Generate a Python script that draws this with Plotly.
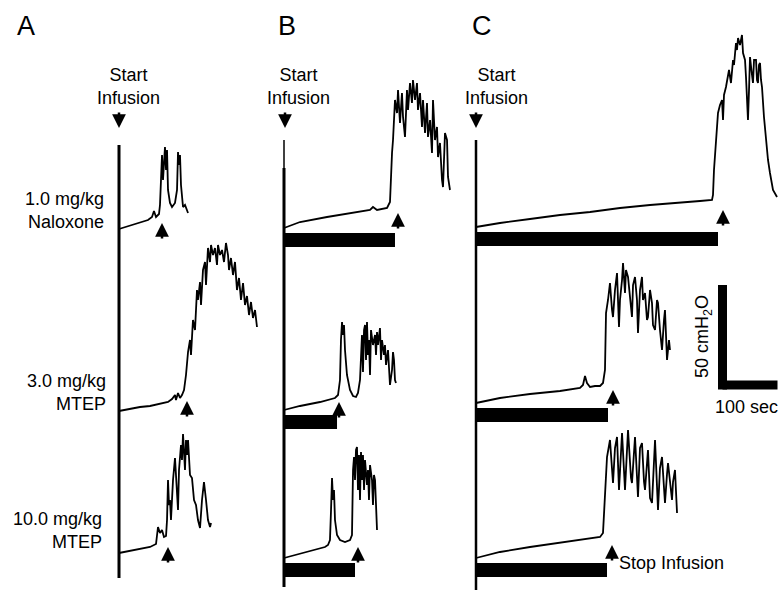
import plotly.graph_objects as go

W, H = 783, 595
PX_PER_S = 0.55      # horizontal scale (100 s scale bar)
PX_PER_CM = 2.0      # vertical scale (50 cmH2O scale bar)
FONT = "Liberation Sans, Arial, sans-serif"

# ---------------- data: time since start of infusion (s), pressure above baseline (cmH2O)
a1_t = [0, 16.4, 34.5, 52.7, 60, 63.6, 67.3, 72.7, 74.5, 76.4, 78.2, 80, 81.8, 83.6, 85.5, 87.3,
        89.1, 92.7, 96.4, 101.8, 105.5, 107.3, 109.1, 110.9, 112.7, 116.4, 120, 123.6, 125.5]
a1_p = [0, 1.5, 3, 4.5, 6, 9, 6, 7.5, 12, 32, 37, 24.5, 34.5, 41, 29.5, 39.5,
        19.5, 13, 11, 13, 19.5, 38.5, 32, 37, 22, 11, 12, 9, 8]

a2_t = [0, 20, 38.2, 56.4, 74.5, 89.1, 96.4, 101.8, 103.6, 107.3, 110.9, 114.5, 118.2, 121.8, 125.5,
        129.1, 130.9, 134.5, 138.2, 141.8, 143.6, 147.3, 149.1, 152.7, 156.4, 158.2, 161.8, 165.5,
        167.3, 170.9, 174.5, 178.2, 180, 183.6, 187.3, 190.9, 194.5, 198.2, 200, 203.6, 207.3,
        210.9, 214.5, 218.2, 221.8, 225.5, 229.1, 232.7, 236.4, 240, 243.6, 247.3, 250.9]
a2_p = [0, 1, 2, 2.5, 3.5, 4.5, 6, 8, 5.5, 9, 6.5, 8, 10.5, 18, 29.5,
        35.5, 28, 45.5, 40.5, 60.5, 55.5, 64.5, 53, 70.5, 74.5, 63, 81.5, 74.5,
        83, 78, 81.5, 73, 83, 78, 80.5, 74.5, 84, 78, 70.5, 76.5, 68,
        74.5, 60.5, 66.5, 55.5, 64, 53, 57.5, 48, 54.5, 46.5, 50.5, 42]

a3_t = [0, 20, 38.2, 56.4, 67.3, 70.9, 74.5, 78.2, 81.8, 85.5, 87.3, 89.1, 90.9, 92.7, 94.5, 98.2,
        101.8, 105.5, 107.3, 109.1, 112.7, 114.5, 116.4, 120, 121.8, 123.6, 125.5, 129.1, 132.7,
        136.4, 140, 143.6, 147.3, 150.9, 154.5, 158.2, 161.8, 165.5, 167.3]
a3_p = [0, 1, 2, 3, 4.5, 13, 10, 11.5, 8, 8.5, 16.5, 36.5, 24, 26.5, 16.5, 36.5,
        47.5, 31.5, 21.5, 41.5, 54, 46.5, 59.5, 41.5, 56.5, 49, 56.5, 39, 37.5,
        26.5, 24, 16.5, 12.5, 26.5, 35.5, 26.5, 16.5, 13, 15]

b1_t = [0, 29.1, 78.2, 125.5, 156.4, 161.8, 169.1, 187.3, 192.7, 196.4, 198.2, 201.8, 205.5, 207.3,
        210.9, 214.5, 216.4, 220, 223.6, 225.5, 229.1, 232.7, 234.5, 238.2, 241.8, 243.6, 247.3,
        250.9, 252.7, 256.4, 260, 261.8, 265.5, 269.1, 270.9, 274.5, 278.2, 280, 283.6, 287.3,
        289.1, 292.7, 296.4, 298.2, 301.8]
b1_p = [0, 3, 5.5, 7.5, 9, 10.5, 9, 10, 13, 37.5, 44, 64, 57.5, 69,
        52.5, 67.5, 55.5, 45.5, 69, 59, 72.5, 62.5, 74, 64, 72.5, 59, 67.5,
        50.5, 64, 47.5, 62.5, 45.5, 54, 37.5, 64, 44, 50.5, 35.5, 42.5, 24,
        20.5, 47.5, 44, 25.5, 19]

b2_t = [0, 29.1, 65.5, 92.7, 98.2, 101.8, 103.6, 105.5, 107.3, 109.1, 110.9, 114.5, 120, 125.5,
        130.9, 134.5, 138.2, 140, 141.8, 143.6, 145.5, 147.3, 149.1, 150.9, 152.7, 154.5, 156.4,
        158.2, 161.8, 165.5, 167.3, 169.1, 170.9, 174.5, 176.4, 178.2, 181.8, 183.6, 185.5, 189.1,
        190.9, 192.7, 196.4, 198.2, 200, 201.8, 203.6]
b2_p = [0, 2, 4, 6, 7.5, 15, 35, 44, 37.5, 42.5, 30, 17.5, 10, 7,
        6.5, 8.5, 15, 32.5, 37.5, 19, 40, 42.5, 25, 44, 27.5, 35, 17.5,
        40, 32.5, 37.5, 27.5, 39, 32.5, 41, 25, 35, 27.5, 32.5, 22.5, 30,
        17.5, 12.5, 20, 29, 25, 15, 13.5]

b3_t = [0, 29.1, 56.4, 74.5, 80, 83.6, 85.5, 87.3, 89.1, 90.9, 92.7, 96.4, 101.8, 110.9, 120, 123.6,
        125.5, 127.3, 129.1, 130.9, 132.7, 134.5, 136.4, 138.2, 140, 141.8, 143.6, 145.5, 147.3,
        150.9, 152.7, 154.5, 156.4, 160, 161.8, 163.6, 165.5, 167.3, 169.1]
b3_p = [0, 2, 4, 5.5, 6.5, 9, 24, 40, 29, 34, 19, 11.5, 9, 8, 9, 11.5,
        44, 50.5, 39, 54, 55.5, 34, 51.5, 29, 53, 39, 51.5, 34, 49,
        36.5, 44, 29, 46.5, 39, 26.5, 41.5, 39, 24, 14]

c1_t = [0, 43.6, 98.2, 152.7, 207.3, 261.8, 316.4, 370.9, 407.3, 429.1, 430.9, 432.7, 436.4, 440,
        443.6, 447.3, 449.1, 450.9, 454.5, 458.2, 460, 463.6, 467.3, 469.1, 472.7, 474.5, 476.4,
        480, 483.6, 485.5, 489.1, 490.9, 492.7, 494.5, 496.4, 498.2, 501.8, 503.6, 505.5, 509.1,
        510.9, 512.7, 514.5, 516.4, 518.2, 520, 523.6, 527.3, 530.9, 534.5, 540, 547.3]
c1_p = [0, 2, 4, 6, 7.5, 9.5, 11, 12, 13, 13.5, 16, 28.5, 42, 57,
        61, 63.5, 53.5, 66, 70, 76, 78.5, 72, 83.5, 81, 92, 88.5, 94.5,
        91, 96, 87, 83.5, 75, 66, 53.5, 68.5, 85, 76, 72, 83.5, 83.5,
        73.5, 72, 81, 82, 73.5, 70, 55, 42, 33.5, 27, 18.5, 15]

c2_t = [0, 43.6, 98.2, 152.7, 189.1, 194.5, 198.2, 201.8, 207.3, 216.4, 225.5, 230.9, 234.5, 236.4,
        240, 243.6, 247.3, 249.1, 252.7, 256.4, 260, 261.8, 265.5, 267.3, 270.9, 272.7, 276.4,
        280, 283.6, 285.5, 289.1, 292.7, 294.5, 298.2, 301.8, 303.6, 307.3, 310.9, 312.7, 316.4,
        320, 321.8, 325.5, 329.1, 330.9, 334.5, 338.2, 341.8, 343.6, 347.3, 350.9, 352.7]
c2_p = [0, 2.5, 4.5, 6, 7.5, 9, 13.5, 10, 8, 8.5, 8.5, 10, 16.5, 45,
        51.5, 60, 46.5, 43, 56.5, 65, 38, 51.5, 61.5, 70, 55, 66.5, 63,
        51.5, 43, 59, 63, 51.5, 35, 56.5, 63, 51.5, 55, 41.5, 43, 56.5,
        50, 39, 36.5, 51.5, 50, 36.5, 26.5, 41.5, 46.5, 21.5, 31.5, 26.5]

c3_t = [0, 43.6, 98.2, 152.7, 207.3, 225.5, 230.9, 234.5, 238.2, 243.6, 249.1, 252.7, 256.4, 260,
        263.6, 265.5, 270.9, 274.5, 276.4, 281.8, 283.6, 289.1, 292.7, 294.5, 298.2, 301.8, 305.5,
        307.3, 312.7, 316.4, 320, 323.6, 325.5, 330.9, 334.5, 338.2, 343.6, 347.3, 349.1, 356.4,
        358.2, 361.8, 365.5]
c3_p = [0, 3, 5.5, 7.5, 9.5, 10.5, 12.5, 30.5, 50.5, 59, 37.5, 55, 60.5, 34,
        58, 62.5, 34, 57, 64, 40, 37.5, 60.5, 35, 30.5, 55, 57.5, 38,
        34, 54, 30, 27.5, 52, 59, 24, 45, 50.5, 27.5, 42, 47.5, 29,
        38, 44, 22.5]

traces = [(a1_t, a1_p), (a2_t, a2_p), (a3_t, a3_p),
          (b1_t, b1_p), (b2_t, b2_p), (b3_t, b3_p),
          (c1_t, c1_p), (c2_t, c2_p), (c3_t, c3_p)]

# infusion durations (s) for B and C rows (black bars) and event arrows (s)
infusion_dur = [None, None, None, 201.8, 96.4, 129.1, 440.0, 240.0, 238.2]
event_time = [78.2, 123.6, 89.1, 207.3, 100.0, 134.5, 449.1, 249.1, 247.3]

row_labels = ["1.0 mg/kg<br>Naloxone", "3.0 mg/kg<br>MTEP", "10.0 mg/kg<br>MTEP"]
panel_letters = ["A", "B", "C"]

# ---------------- layout placement (pixel positions of trace origins)
def X(px):
    return px / PX_PER_S

def Y(py):
    return (H - py) / PX_PER_CM

panel_x_px = [119, 284, 476]
baseline_px = [229, 411, 553, 228, 410, 558, 227, 403, 558]
arrow_tip_px = [223, 401, 547, 213, 402, 547, 210, 390, 545]

fig = go.Figure()
for i, (t, p) in enumerate(traces):
    x0 = X(panel_x_px[i // 3])
    b = Y(baseline_px[i])
    fig.add_trace(go.Scatter(
        x=[x0 + v for v in t], y=[b + v for v in p], mode="lines",
        line=dict(color="black", width=1.8), hoverinfo="skip", showlegend=False))

shapes = []
# start-infusion vertical lines
shapes.append(dict(type="line", x0=X(119), x1=X(119), y0=Y(145), y1=Y(578),
                   line=dict(color="black", width=3)))
shapes.append(dict(type="line", x0=X(284), x1=X(284), y0=Y(140), y1=Y(168),
                   line=dict(color="black", width=1.5)))
shapes.append(dict(type="line", x0=X(284), x1=X(284), y0=Y(168), y1=Y(587),
                   line=dict(color="black", width=3)))
shapes.append(dict(type="line", x0=X(476), x1=X(476), y0=Y(140), y1=Y(590),
                   line=dict(color="black", width=2.5)))

# infusion bars
for i, d in enumerate(infusion_dur):
    if d is None:
        continue
    x0 = X(panel_x_px[i // 3])
    b = Y(baseline_px[i])
    shapes.append(dict(type="rect", x0=x0, x1=x0 + d, y0=b - 9.5, y1=b - 2.5,
                       fillcolor="black", line=dict(width=0)))

# scale bar: 50 cmH2O vertical, 100 s horizontal
sb_x, sb_y = X(722.5), Y(385)
shapes.append(dict(type="line", x0=sb_x, x1=sb_x, y0=sb_y - 2.2, y1=sb_y + 50,
                   line=dict(color="black", width=9)))
shapes.append(dict(type="line", x0=sb_x, x1=sb_x + 100, y0=sb_y, y1=sb_y,
                   line=dict(color="black", width=9)))

ann = []
def text(px, py, s, size=18, xanchor="center", align="center", angle=0):
    ann.append(dict(x=px / W, y=1 - py / H, xref="paper", yref="paper", text=s,
                    showarrow=False, xanchor=xanchor, yanchor="middle", align=align,
                    textangle=angle, font=dict(family=FONT, size=size, color="black")))

# panel letters
for lx, L in zip([26, 287, 482], panel_letters):
    text(lx, 26, L, size=27)

# Start infusion labels + down arrows
for cx, ax_px in zip([128, 298, 496], [119, 285, 476]):
    text(cx, 86, "Start<br>Infusion", size=18)
    ann.append(dict(x=X(ax_px), y=Y(128), ax=0, ay=-17, xref="x", yref="y", text="",
                    showarrow=True, arrowhead=2, arrowsize=1.1, arrowwidth=2.5,
                    arrowcolor="black", standoff=0))

# row labels
text(106, 210, row_labels[0], xanchor="right", align="right")
text(108, 392, row_labels[1], xanchor="right", align="right")
text(104, 530, row_labels[2], xanchor="right", align="right")

# event arrows
for i, et in enumerate(event_time):
    x0 = X(panel_x_px[i // 3])
    ann.append(dict(x=x0 + et, y=Y(arrow_tip_px[i]), ax=0, ay=17, xref="x", yref="y",
                    text="", showarrow=True, arrowhead=2, arrowsize=1.1, arrowwidth=2.5,
                    arrowcolor="black", standoff=0))

text(617, 563, "Stop Infusion", xanchor="left")
text(703, 337, "50 cmH<sub>2</sub>O", angle=-90)
text(746, 407, "100 sec")

fig.update_layout(
    width=W, height=H, margin=dict(l=0, r=0, t=0, b=0),
    paper_bgcolor="white", plot_bgcolor="white",
    xaxis=dict(range=[0, W / PX_PER_S], visible=False, fixedrange=True),
    yaxis=dict(range=[0, H / PX_PER_CM], visible=False, fixedrange=True),
    shapes=shapes, annotations=ann, showlegend=False,
)
fig.write_html("out.html", config={"displayModeBar": False})
